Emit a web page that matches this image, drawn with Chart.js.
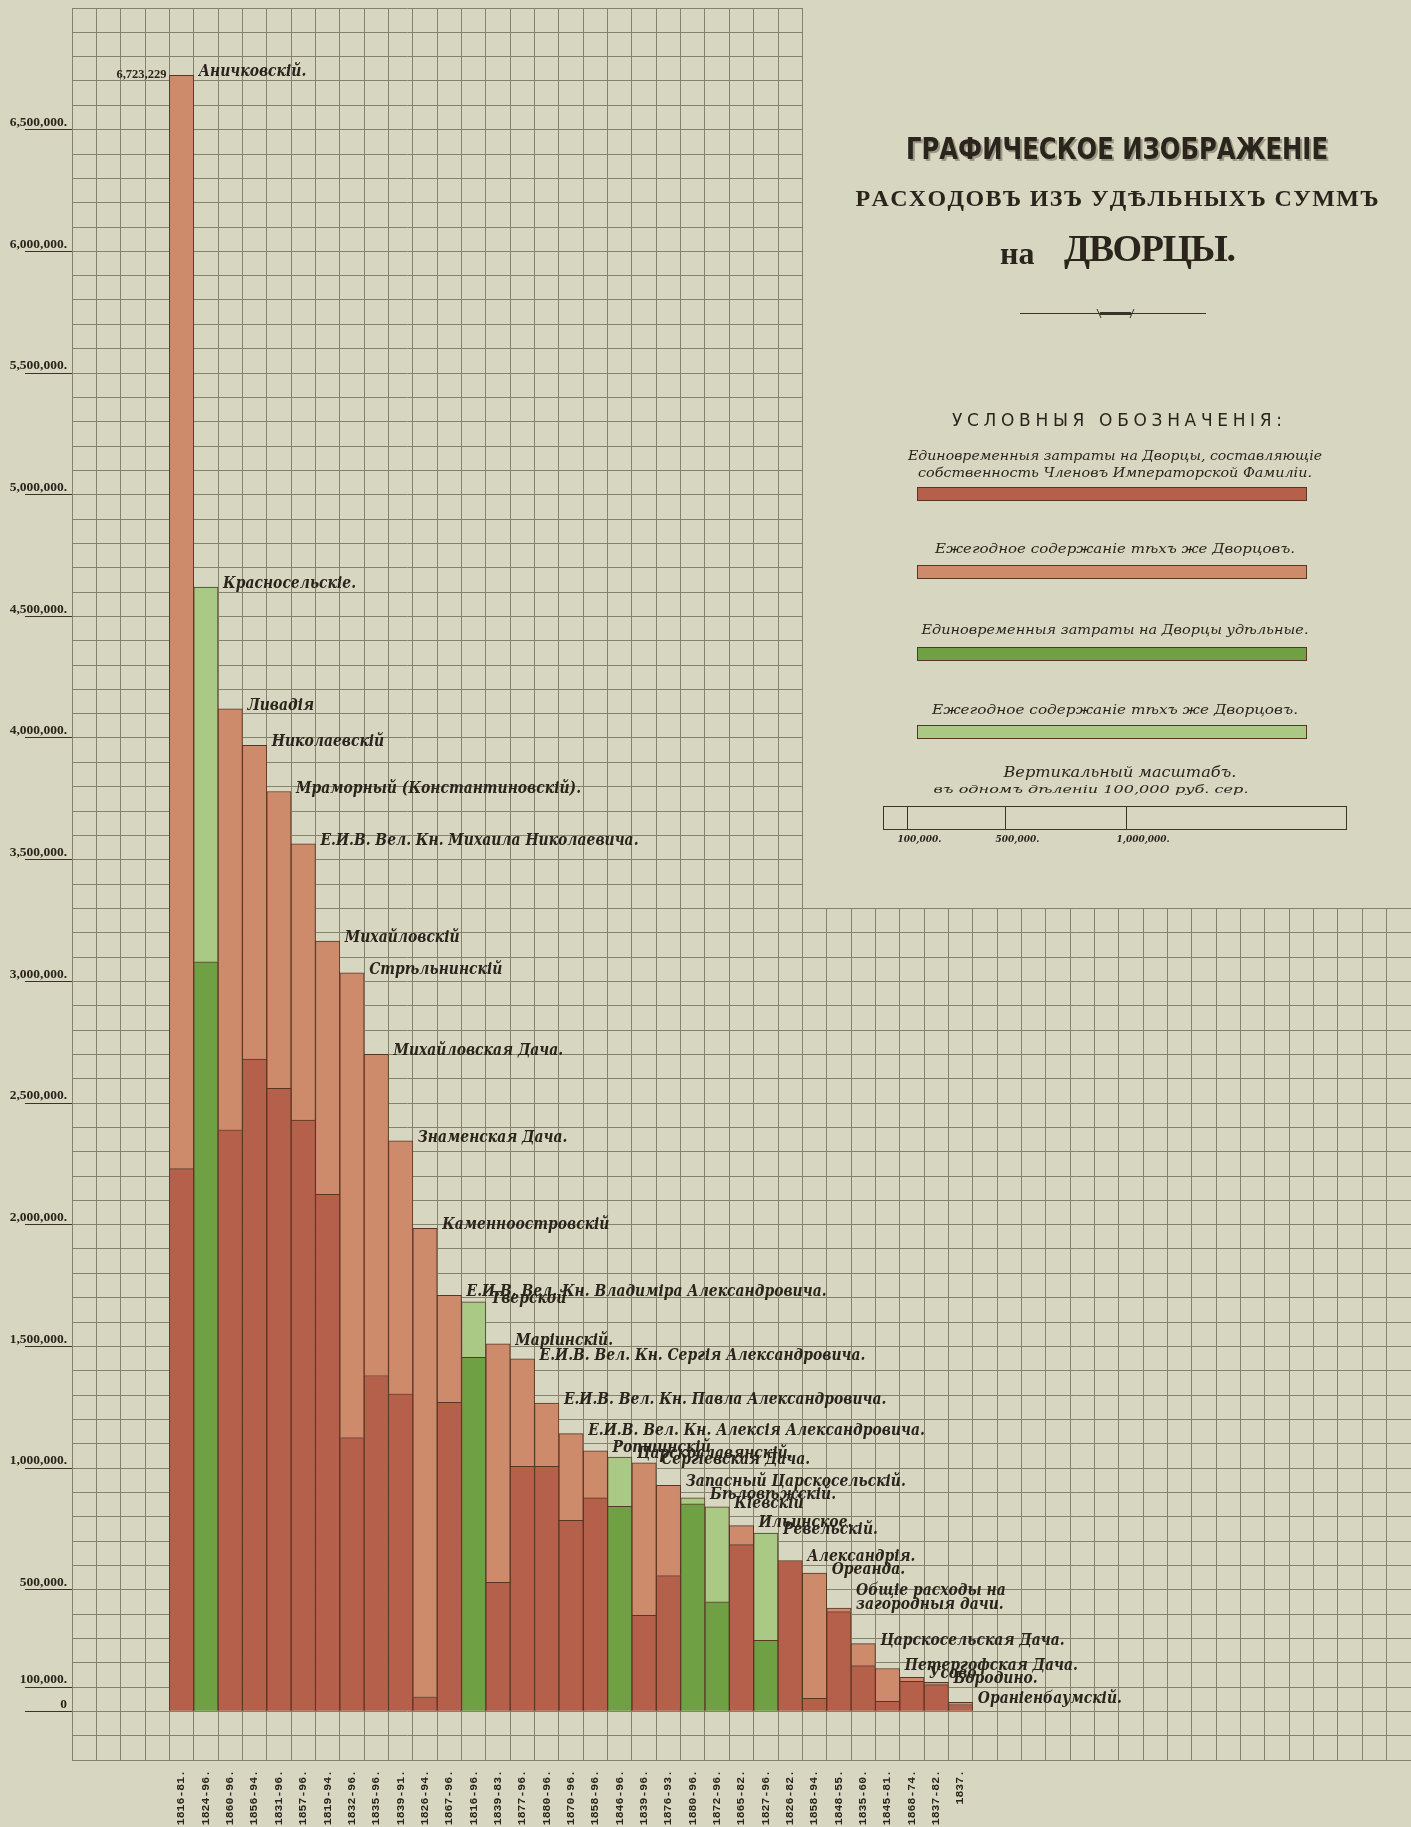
<!DOCTYPE html>
<html>
<head>
<meta charset="utf-8">
<script src="https://cdn.jsdelivr.net/npm/chart.js@4.4.1/dist/chart.umd.min.js"></script>
<style>
  html, body { margin: 0; padding: 0; background: #d7d6c0; }
  #wrap { width: 1411px; height: 1827px; position: relative; }
</style>
</head>
<body>
<div id="wrap"><canvas id="c" width="1411" height="1827"></canvas></div>
<script>
// ---------- DATA ----------
const periods = ['1816-81.','1824-96.','1860-96.','1856-94.','1831-96.','1857-96.','1819-94.','1832-96.','1835-96.','1839-91.','1826-94.','1867-96.','1816-96.','1839-83.','1877-96.','1880-96.','1870-96.','1858-96.','1846-96.','1839-96.','1876-93.','1880-96.','1872-96.','1865-82.','1827-96.','1826-82.','1858-94.','1848-55.','1835-60.','1845-81.','1868-74.','1837-82.','1837.'];

const palaceNames = ['Аничковскій.','Красносельскіе.','Ливадія','Николаевскій','Мраморный (Константиновскій).','Е.И.В. Вел. Кн. Михаила Николаевича.','Михайловскій','Стрѣльнинскій','Михайловская Дача.','Знаменская Дача.','Каменноостровскій','Е.И.В. Вел. Кн. Владиміра Александровича.','Тверской','Маріинскій.','Е.И.В. Вел. Кн. Сергія Александровича.','Е.И.В. Вел. Кн. Павла Александровича.','Е.И.В. Вел. Кн. Алексія Александровича.','Ропшинскій','Царскославянскій.','Сергіевская Дача.','Запасный Царскосельскій.','Бѣловѣжскій.','Кіевскій','Ильинское.','Ревельскій.','Александрія.','Ореанда.','Общіе расходы на|загородныя дачи.','Царскосельская Дача.','Петергофская Дача.','Усово','Бородино.','Ораніенбаумскій.'];

// one-time outlays on palaces owned by members of the Imperial family (dark red)
const oneTimeFamily = [2230000,null,2390000,2680000,2560000,2430000,2125000,1125000,1380000,1305000,60000,1270000,null,530000,1007000,1007000,785000,877000,null,395000,558000,null,null,685000,null,620000,53000,410000,188000,41000,123000,110000,28000];
// annual upkeep of the same palaces (light red)
const annualFamily = [4493229,null,1730000,1290000,1220000,1135000,1040000,1910000,1320000,1040000,1925000,440000,null,980000,442000,260000,356000,194000,null,626000,371000,null,null,78000,null,null,515000,14000,90000,135000,17000,9000,9000];
// one-time outlays on appanage palaces (dark green)
const oneTimeAppanage = [null,3080000,null,null,null,null,null,null,null,null,null,null,1455000,null,null,null,null,null,842000,null,null,853000,450000,null,292000,null,null,null,null,null,null,null,null];
// annual upkeep of appanage palaces (light green)
const annualAppanage = [null,1540000,null,null,null,null,null,null,null,null,null,null,228000,null,null,null,null,null,203000,null,null,24000,390000,null,441000,null,null,null,null,null,null,null,null];

const yLabelValues = [0,100000,500000,1000000,1500000,2000000,2500000,3000000,3500000,4000000,4500000,5000000,5500000,6000000,6500000];

const legendTexts = [
  ['Единовременныя затраты на Дворцы, составляющіе','собственность Членовъ Императорской Фамиліи.'],
  ['Ежегодное содержаніе тѣхъ же Дворцовъ.'],
  ['Единовременныя затраты на Дворцы удѣльные.'],
  ['Ежегодное содержаніе тѣхъ же Дворцовъ.']
];
const scaleMarks = [100000, 500000, 1000000];

// ---------- STYLE ----------
const PAPER = '#d7d6c0';
const GRID = '#85826c';
const INK = '#2a241c';
const C_DARK_RED = '#b5604b';
const C_LIGHT_RED = '#cd8b6b';
const C_DARK_GREEN = '#70a044';
const C_LIGHT_GREEN = '#aac985';
const BORDER = '#5a3424';

const LEAD = 4, COLS = 55;
const padArr = a => [...Array(LEAD).fill(null), ...a, ...Array(COLS - LEAD - a.length).fill(null)];
const xLabels = padArr(periods).map(v => v === null ? '' : v);
const totals = periods.map((_, i) => (oneTimeFamily[i]||0) + (annualFamily[i]||0) + (oneTimeAppanage[i]||0) + (annualAppanage[i]||0));

const isLabeled = v => yLabelValues.includes(v);
const fmtNum = v => v.toLocaleString('en-US');

function drawFit(ctx, text, cx, cy, w, font, color, mode) {
  ctx.save();
  ctx.font = font; ctx.fillStyle = color; ctx.textBaseline = 'middle';
  if (mode === 'space') {
    const chars = [...text];
    const ws = chars.map(c => ctx.measureText(c).width);
    const sum = ws.reduce((a, b) => a + b, 0);
    const gap = chars.length > 1 ? (w - sum) / (chars.length - 1) : 0;
    let x = cx - w / 2; ctx.textAlign = 'left';
    chars.forEach((c, i) => { ctx.fillText(c, x, cy); x += ws[i] + gap; });
  } else {
    const m = ctx.measureText(text).width;
    ctx.translate(cx, cy); ctx.scale(w / m, 1);
    ctx.textAlign = 'center'; ctx.fillText(text, 0, 0);
  }
  ctx.restore();
}

const paperPlugin = {
  id: 'paper',
  beforeDraw(chart) {
    const ctx = chart.ctx;
    ctx.save(); ctx.fillStyle = PAPER; ctx.fillRect(0, 0, chart.width, chart.height); ctx.restore();
  },
  beforeDatasetsDraw(chart) {
    // blank upper-right panel for the title and legend
    const xs = chart.scales.x, ys = chart.scales.y, ctx = chart.ctx;
    const cell = xs.getPixelForValue(1) - xs.getPixelForValue(0);
    const xb = xs.getPixelForValue(30) - cell / 2;
    const yb = ys.getPixelForValue(3300000);
    ctx.save(); ctx.fillStyle = PAPER;
    const x0 = Math.round(xb - 0.5) + 1;
    ctx.fillRect(x0, 0, chart.width - x0, Math.round(yb - 0.5));
    ctx.restore();
  }
};

const namesPlugin = {
  id: 'names',
  afterDatasetsDraw(chart) {
    const xs = chart.scales.x, ys = chart.scales.y, ctx = chart.ctx;
    const cell = xs.getPixelForValue(1) - xs.getPixelForValue(0);
    ctx.save();
    ctx.font = 'italic bold 17px "DejaVu Serif", serif';
    const sc = 360 / ctx.measureText(palaceNames[11]).width;
    ctx.fillStyle = INK; ctx.textBaseline = 'alphabetic'; ctx.textAlign = 'left';
    palaceNames.forEach((nm, i) => {
      const xr = xs.getPixelForValue(LEAD + i) + cell / 2;
      const yt = ys.getPixelForValue(totals[i]);
      const lines = nm.split('|');
      lines.forEach((ln, k) => {
        ctx.save();
        ctx.translate(xr + 5, yt + 1 - (lines.length - 1 - k) * 14);
        ctx.scale(sc, 1);
        ctx.fillText(ln, 0, 0);
        ctx.restore();
      });
    });
    // total of the first bar
    const xl = xs.getPixelForValue(LEAD) - cell / 2;
    ctx.font = 'bold 12.5px "Liberation Serif", serif';
    ctx.textAlign = 'right';
    ctx.fillText(fmtNum(totals[0]), xl - 3, ys.getPixelForValue(totals[0]) + 3);
    ctx.restore();
  }
};

const decorPlugin = {
  id: 'decor',
  afterDraw(chart) {
    const ctx = chart.ctx, ys = chart.scales.y;
    const cx = 1117;
    // title line 1 with shadow
    drawFit(ctx, 'ГРАФИЧЕСКОЕ ИЗОБРАЖЕНІЕ', cx + 2, 153, 422, 'bold 30px "DejaVu Sans Condensed", "DejaVu Sans", sans-serif', '#9a9784', 'scale');
    drawFit(ctx, 'ГРАФИЧЕСКОЕ ИЗОБРАЖЕНІЕ', cx, 151, 422, 'bold 30px "DejaVu Sans Condensed", "DejaVu Sans", sans-serif', INK, 'scale');
    drawFit(ctx, 'РАСХОДОВЪ ИЗЪ УДѢЛЬНЫХЪ СУММЪ', cx, 200, 523, 'bold 24px "Liberation Serif", serif', INK, 'space');
    // line 3
    ctx.save();
    ctx.fillStyle = INK; ctx.textBaseline = 'alphabetic'; ctx.textAlign = 'left';
    ctx.font = 'bold 32px "Liberation Serif", serif';
    ctx.fillText('на', 1000, 264);
    ctx.restore();
    drawFit(ctx, 'ДВОРЦЫ.', 1150, 251, 172, 'bold 38px "Liberation Serif", serif', INK, 'space');
    // ornamental rule
    ctx.save();
    ctx.strokeStyle = '#3a3328'; ctx.lineWidth = 1;
    ctx.beginPath(); ctx.moveTo(1020, 313.5); ctx.lineTo(1206, 313.5); ctx.stroke();
    ctx.lineWidth = 3; ctx.beginPath(); ctx.moveTo(1100, 313.5); ctx.lineTo(1131, 313.5); ctx.stroke();
    ctx.lineWidth = 1;
    ctx.beginPath(); ctx.moveTo(1097, 309); ctx.lineTo(1101, 318); ctx.moveTo(1134, 309); ctx.lineTo(1130, 318); ctx.stroke();
    ctx.restore();
    drawFit(ctx, 'УСЛОВНЫЯ ОБОЗНАЧЕНІЯ:', cx, 422, 330, '17px "DejaVu Sans", sans-serif', INK, 'space');

    const lf = 'italic 13px "DejaVu Serif", serif';
    const colors = [C_DARK_RED, C_LIGHT_RED, C_DARK_GREEN, C_LIGHT_GREEN];
    const textRows = [[[457, 414], [474, 394]], [[550, 360]], [[631, 387]], [[711, 366]]];
    const barRows = [487, 565, 647, 725];
    legendTexts.forEach((lines, i) => {
      lines.forEach((t, k) => drawFit(ctx, t, 1115, textRows[i][k][0], textRows[i][k][1], lf, INK, 'scale'));
      ctx.save();
      ctx.fillStyle = colors[i]; ctx.fillRect(917, barRows[i], 390, 14);
      ctx.strokeStyle = BORDER; ctx.lineWidth = 1; ctx.strokeRect(917.5, barRows[i] + 0.5, 389, 13);
      ctx.restore();
    });
    drawFit(ctx, 'Вертикальный масштабъ.', 1120, 773, 233, 'italic 15px "DejaVu Serif", serif', INK, 'scale');
    drawFit(ctx, 'въ одномъ дѣленіи 100,000 руб. сер.', 1091, 790, 315, 'italic 11px "DejaVu Serif", serif', INK, 'scale');
    // scale bar drawn with the y scale's own unit
    const unit = ys.getPixelForValue(0) - ys.getPixelForValue(100000);
    const bx = 883, by = 806, bw = 463, bh = 23;
    ctx.save();
    ctx.strokeStyle = '#3a3328'; ctx.lineWidth = 1;
    ctx.strokeRect(bx + 0.5, by + 0.5, bw, bh);
    ctx.font = 'italic bold 9px "DejaVu Serif", serif'; ctx.fillStyle = INK; ctx.textBaseline = 'top'; ctx.textAlign = 'left';
    scaleMarks.forEach(v => {
      const xx = Math.round(bx + unit * v / 100000) + 0.5;
      ctx.beginPath(); ctx.moveTo(xx, by); ctx.lineTo(xx, by + bh); ctx.stroke();
      ctx.fillText(fmtNum(v) + '.', xx - 10, by + bh + 6);
    });
    ctx.restore();
  }
};

new Chart(document.getElementById('c'), {
  type: 'bar',
  data: {
    labels: xLabels,
    datasets: [
      { label: 'Единовременныя затраты (Фамилія)', data: padArr(oneTimeFamily), backgroundColor: C_DARK_RED },
      { label: 'Ежегодное содержаніе (Фамилія)', data: padArr(annualFamily), backgroundColor: C_LIGHT_RED },
      { label: 'Единовременныя затраты (удѣльные)', data: padArr(oneTimeAppanage), backgroundColor: C_DARK_GREEN },
      { label: 'Ежегодное содержаніе (удѣльные)', data: padArr(annualAppanage), backgroundColor: C_LIGHT_GREEN }
    ].map(d => Object.assign(d, { borderColor: BORDER, borderWidth: 1, barPercentage: 1, categoryPercentage: 1, stack: 's' }))
  },
  options: {
    responsive: false,
    animation: false,
    devicePixelRatio: 1,
    layout: { padding: { top: 8, left: 0, right: 0, bottom: 0 } },
    plugins: { legend: { display: false }, tooltip: { enabled: false } },
    scales: {
      x: {
        type: 'category', stacked: true, offset: true,
        grid: { offset: true, color: GRID, lineWidth: 1, drawTicks: false },
        border: { color: GRID },
        ticks: { autoSkip: false, minRotation: 90, maxRotation: 90, padding: 10, color: INK,
                 font: { family: '"Liberation Mono", monospace', size: 11.5, weight: 'bold' } },
        afterFit(s) { s.height = 67; s.paddingLeft = 0; s.paddingRight = 0; }
      },
      y: {
        type: 'linear', stacked: true, min: -200000, max: 7000000,
        grid: { color: GRID, lineWidth: 1, drawTicks: true, tickLength: 47,
                tickColor: c => (c.tick && isLabeled(c.tick.value)) ? '#3a3328' : 'rgba(0,0,0,0)' },
        border: { color: GRID },
        ticks: { stepSize: 100000, autoSkip: false, padding: -42, labelOffset: -7, color: INK,
                 font: { family: '"Liberation Serif", serif', size: 13.5, weight: 'bold' },
                 callback: v => isLabeled(v) ? (v === 0 ? '0' : fmtNum(v) + '.') : '' },
        afterFit(s) { s.width = 72; s.paddingTop = 0; s.paddingBottom = 0; }
      }
    }
  },
  plugins: [paperPlugin, namesPlugin, decorPlugin]
});
</script>
</body>
</html>
